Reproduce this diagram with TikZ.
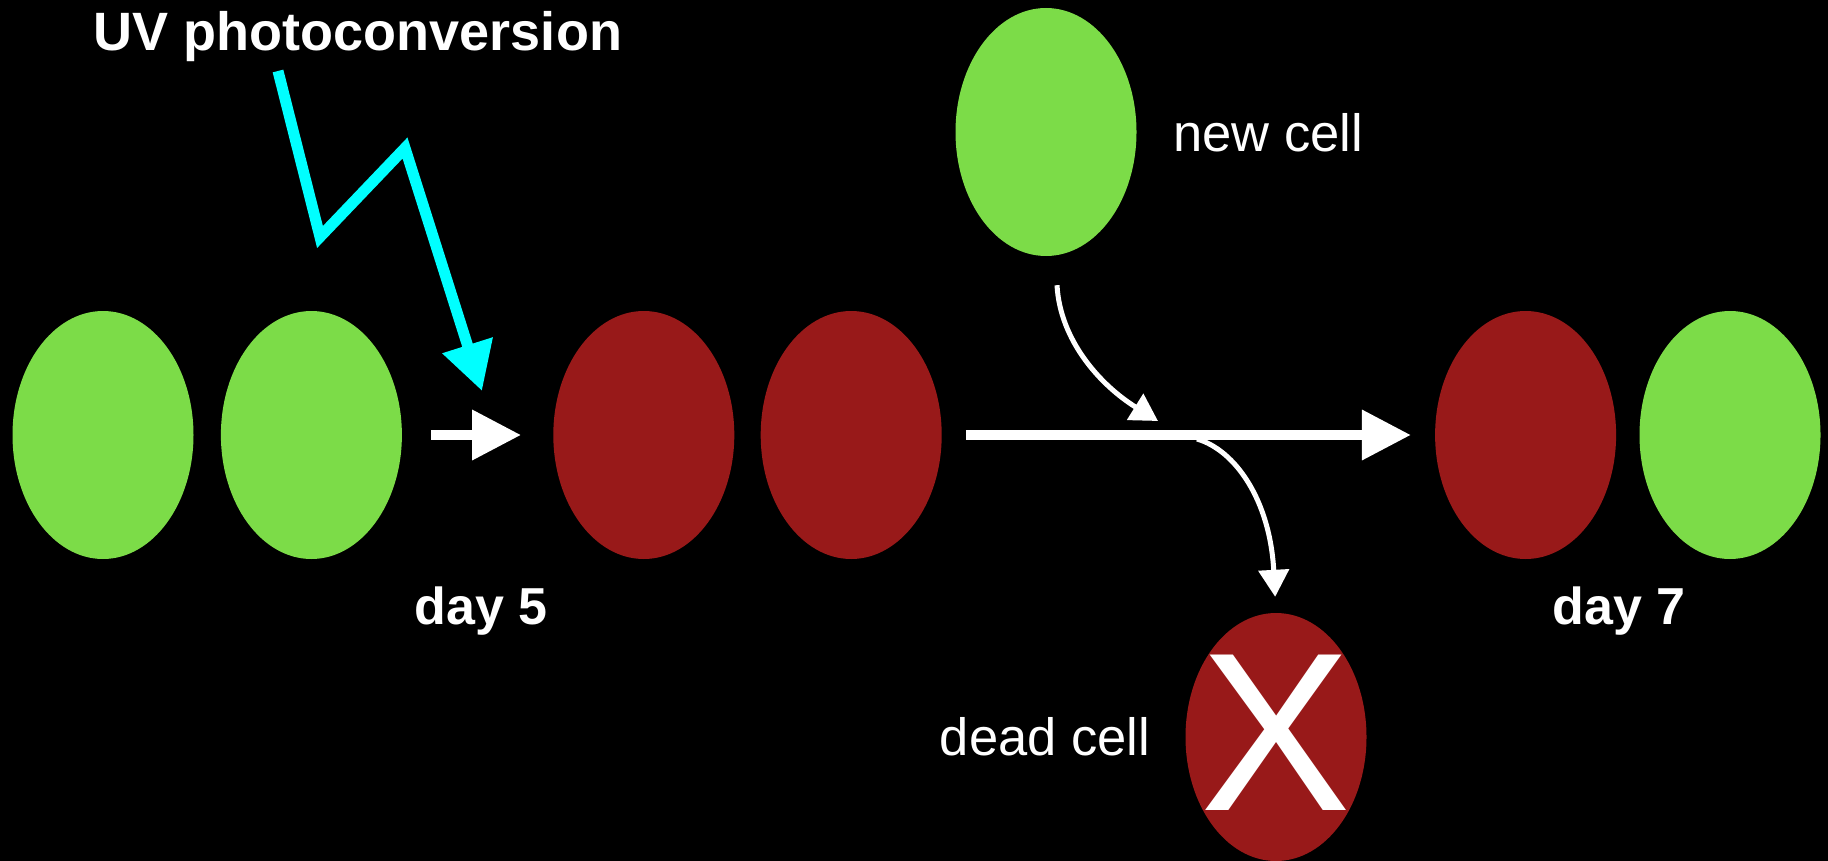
\documentclass[tikz,border=0pt]{standalone}
\usepackage{fontspec}
\setmainfont{Liberation Sans}
\usetikzlibrary{
  shapes,
  arrows.meta,
  positioning
}
\definecolor{cellgreen}{RGB}{124,220,72}
\definecolor{cellred}{RGB}{152,25,25}
\definecolor{uvcyan}{RGB}{0,255,255}

\begin{document}
\begin{tikzpicture}[x=1pt,y=-1pt,
  cell/.style={ellipse,minimum width=181pt,minimum height=248pt,inner sep=0pt},
  gcell/.style={cell,fill=cellgreen},
  rcell/.style={cell,fill=cellred},
  txt/.style={text=white,inner sep=0pt,anchor=base,font=\fontsize{52.5}{60}\selectfont},
  btxt/.style={txt,font=\fontsize{52}{60}\selectfont\bfseries},
  fat/.style={white,line width=10pt,-{Triangle[length=49pt,width=48pt]}},
  link/.style={white,line width=5pt,-{Triangle[length=27pt,width=30pt]}},
  bolt/.style={uvcyan,line width=11pt,line join=miter,-{Triangle[length=48pt,width=50pt]}}]
\fill[black] (0,0) rectangle (1828,861);
\useasboundingbox (0,0) rectangle (1828,861);

\node[gcell] (G1) at (103,435) {};
\node[gcell,right=27pt of G1] (G2) {};
\node[rcell,right=151pt of G2] (R1) {};
\node[rcell,right=26pt of R1] (R2) {};
\node[rcell,right=493pt of R2] (R3) {};
\node[gcell,right=23pt of R3] (G3) {};
\node[gcell] (N) at (1046,132) {};
\node[rcell] (D) at (1276,737) {};
\node[text=white,inner sep=0pt,font=\fontsize{226}{226}\selectfont,yshift=4pt] at (D) {X};

\node[btxt,font=\fontsize{54}{62}\selectfont\bfseries] (uv) at (358,51) {UV photoconversion};
\node[btxt] (d5) at (481,624) {day 5};
\node[btxt] (d7) at (1619,624) {day 7};
\node[txt] (nl) at (1268,152) {new cell};
\node[txt] (dl) at (1045,755) {dead cell};

\coordinate (b1) at (278,71);
\coordinate (b2) at (320,237);
\coordinate (b3) at (405,148);
\coordinate (hit) at (482,391);
\coordinate (join) at (1158,421);
\coordinate (split) at (1197,439);

\draw[bolt] (b1) -- (b2) -- (b3) -- (hit);
\draw[fat,shorten <=29pt,shorten >=32pt] (G2) -- (R1);
\draw[fat,shorten <=24pt,shorten >=24pt] (R2) -- (R3);
\draw[link] ([xshift=11pt,yshift=-29pt]N.south) .. controls +(3,55) and +(-58,-36) .. (join);
\draw[link,shorten >=16pt] (split) .. controls +(38,11) and +(-6,-113) .. (D.north);
\end{tikzpicture}
\end{document}
